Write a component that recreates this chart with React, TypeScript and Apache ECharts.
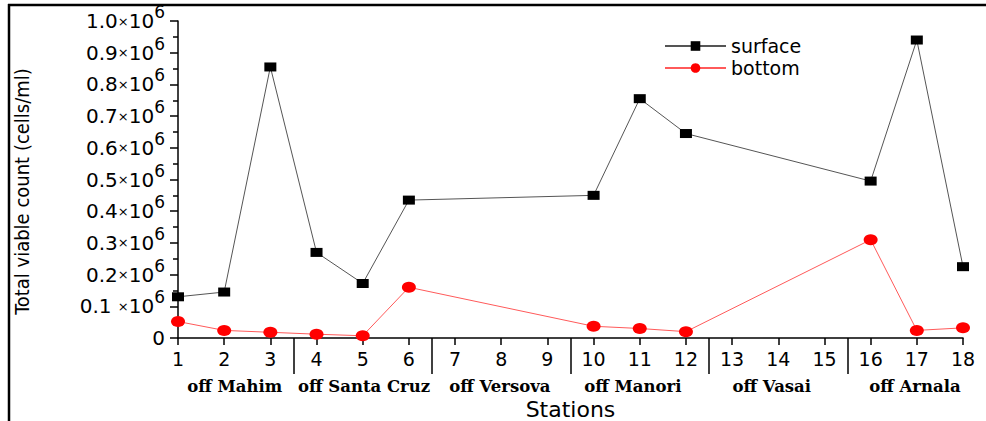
import React, { useEffect, useRef } from "react";
import * as echarts from "echarts";

const stations = [1, 2, 3, 4, 5, 6, 10, 11, 12, 16, 17, 18];
const surface = [130000, 145000, 855000, 270000, 172000, 435000, 450000, 755000, 645000, 495000, 940000, 225000];
const bottom = [52000, 24000, 18000, 12000, 7000, 160000, 37000, 30000, 20000, 310000, 24000, 32000];
const groupNames = ["off Mahim", "off Santa Cruz", "off Versova", "off Manori", "off Vasai", "off Arnala"];
const groupCenters = [2.23, 5.03, 7.97, 10.85, 13.86, 16.96];
const groupBounds = [3.5, 6.5, 9.5, 12.5, 15.5];

export default function App() {
  const ref = useRef<HTMLDivElement>(null);
  useEffect(() => {
    if (!ref.current) return;
    const chart = echarts.init(ref.current, null, { renderer: "svg" });
    const sans = "DejaVu Sans";
    chart.setOption({
      animation: false,
      backgroundColor: "#fff",
      grid: { left: 178, right: 23, top: 21, bottom: 83, containLabel: false, outerBoundsMode: "none" },
      legend: {
        orient: "vertical",
        left: 659,
        top: 31,
        itemWidth: 61,
        itemHeight: 12,
        itemGap: 2,
        textStyle: { fontFamily: sans, fontSize: 19, lineHeight: 20, color: "#000" },
        data: ["surface", "bottom"],
      },
      xAxis: [
        {
          type: "value",
          min: 1,
          max: 18,
          interval: 1,
          name: "Stations",
          nameLocation: "middle",
          nameGap: 60,
          nameTextStyle: { fontFamily: sans, fontSize: 22, color: "#000" },
          axisLine: { show: true, onZero: false, lineStyle: { color: "#000", width: 1.5 } },
          axisTick: { show: true, length: 7, lineStyle: { color: "#000", width: 1.5 } },
          axisLabel: { fontFamily: sans, fontSize: 19, color: "#000", margin: 11 },
          splitLine: { show: false },
        },
        {
          type: "value",
          min: 1,
          max: 18,
          position: "bottom",
          offset: 0,
          axisLine: { show: false },
          axisTick: {
            show: true,
            length: 36,
            customValues: groupBounds,
            lineStyle: { color: "#000", width: 1.5 },
          },
          axisLabel: {
            show: true,
            customValues: groupCenters,
            margin: 40,
            fontFamily: "DejaVu Serif",
            fontWeight: "bold",
            fontSize: 16.5,
            color: "#000",
            formatter: (v: number) => {
              const i = groupCenters.findIndex((c) => Math.abs(c - v) < 1e-6);
              return i >= 0 ? groupNames[i] : "";
            },
          },
          splitLine: { show: false },
        },
      ],
      yAxis: {
        type: "value",
        min: 0,
        max: 1000000,
        interval: 100000,
        name: "Total viable count (cells/ml)",
        nameLocation: "middle",
        nameGap: 146,
        nameTextStyle: {
          fontFamily: "'DejaVu Sans Condensed', 'DejaVu Sans', sans-serif",
          fontSize: 20,
          color: "#000",
          padding: [0, 24, 0, 0],
        },
        axisLine: { show: true, lineStyle: { color: "#000", width: 1.5 } },
        axisTick: { show: true, length: 8, lineStyle: { color: "#000", width: 1.5 } },
        minorTick: { show: true, splitNumber: 2, length: 5, lineStyle: { color: "#000", width: 1.5 } },
        splitLine: { show: false },
        axisLabel: {
          margin: 13,
          formatter: (v: number) => {
            if (v === 0) return "{a|0}";
            const s = (v / 1e6).toFixed(1);
            const gap = s === "0.1" ? " " : "";
            return `{a|${s}${gap}}{x|×}{a|10}{s|6}`;
          },
          rich: {
            a: { fontFamily: sans, fontSize: 20, color: "#000" },
            x: { fontFamily: sans, fontSize: 13, color: "#000" },
            s: { fontFamily: sans, fontSize: 17, color: "#000", padding: [0, 0, 18, 0] },
          },
        },
      },
      series: [
        {
          name: "surface",
          type: "line",
          data: stations.map((s, i) => [s, surface[i]]),
          symbol: "rect",
          symbolSize: [12, 9],
          itemStyle: { color: "#000" },
          lineStyle: { color: "#555", width: 1 },
          clip: true,
        },
        {
          name: "bottom",
          type: "line",
          data: stations.map((s, i) => [s, bottom[i]]),
          symbol: "circle",
          symbolSize: [14, 11],
          itemStyle: { color: "#ff0000" },
          lineStyle: { color: "#ff5a5a", width: 1 },
          clip: true,
        },
      ],
      graphic: [
        { type: "line", shape: { x1: 8, y1: 5, x2: 986, y2: 5 }, style: { stroke: "#000", lineWidth: 2.5 } },
        { type: "line", shape: { x1: 9, y1: 4, x2: 9, y2: 421 }, style: { stroke: "#000", lineWidth: 2.5 } },
      ],
    });
    return () => chart.dispose();
  }, []);
  return <div ref={ref} style={{ width: 986, height: 421, position: "absolute", left: 0, top: 0 }} />;
}
